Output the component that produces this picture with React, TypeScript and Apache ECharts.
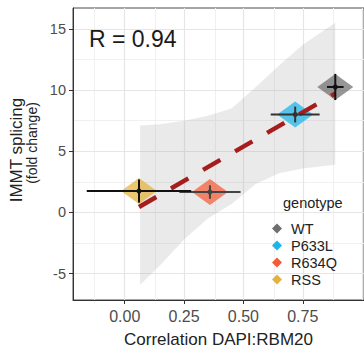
import React, { useEffect, useRef } from "react";
import * as echarts from "echarts";

// ---- data ----
const genotypes = ["WT", "P633L", "R634Q", "RSS"];
const corrX = [0.887, 0.718, 0.359, 0.06];
const splicingY = [10.25, 8.0, 1.67, 1.75];
const corrErr = [0.035, 0.103, 0.129, 0.22];
const splicingErr = [1.07, 0.65, 0.55, 0.95];
const pointColors = ["#6e6e6e", "#1cb5ea", "#f35c36", "#e4b23a"];
const errColors = ["#111111", "#333333", "#444444", "#111111"];

const fitX = [0.06, 0.887];
const fitY = [0.45, 9.72];

const bandX = [0.065, 0.15, 0.25, 0.35, 0.45, 0.55, 0.65, 0.75, 0.887];
const bandUpper = [7.1, 7.2, 7.5, 7.9, 8.5, 10.2, 12.0, 13.7, 15.5];
const bandLower = [-5.9, -4.3, -2.2, -0.5, 0.7, 2.3, 3.2, 3.6, 3.9];

const xTicks = [0, 0.25, 0.5, 0.75];
const yTicks = [-5, 0, 5, 10, 15];
const xMajorGrid = [0, 0.25, 0.5, 0.75, 1.0];
const xMinorGrid = [-0.125, 0.125, 0.375, 0.625, 0.875];
const yMajorGrid = [-5, 0, 5, 10, 15];
const yMinorGrid = [-2.5, 2.5, 7.5, 12.5];

const FONT = "'Liberation Sans', Arial, sans-serif";

export default function App() {
  const ref = useRef<HTMLDivElement>(null);

  useEffect(() => {
    if (!ref.current) return;
    const chart = echarts.init(ref.current, null, { renderer: "svg" });

    const gridLines = (vals: number[], axis: "xAxis" | "yAxis", color: string, width: number) =>
      vals.map((v) => ({ [axis]: v, lineStyle: { color, width, type: "solid" } }));

    const option: any = {
      animation: false,
      backgroundColor: "#ffffff",
      textStyle: { fontFamily: FONT },
      grid: {
        left: 73,
        top: 8,
        right: -13,
        bottom: 46,
        containLabel: false,
        show: true,
        borderColor: "#4a4a4a",
        borderWidth: 1,
        backgroundColor: "transparent",
      },
      xAxis: {
        type: "value",
        min: -0.218,
        max: 1.008,
        splitLine: { show: false },
        axisLine: { show: true, onZero: false, lineStyle: { color: "#333", width: 1 } },
        axisTick: {
          show: true,
          length: 4,
          customValues: xTicks,
          lineStyle: { color: "#333" },
        },
        axisLabel: {
          customValues: xTicks,
          formatter: (v: number) => v.toFixed(2),
          color: "#4d4d4d",
          fontSize: 16,
          margin: 8,
          fontFamily: FONT,
        },
        name: "Correlation DAPI:RBM20",
        nameLocation: "middle",
        nameGap: 31,
        nameTextStyle: { color: "#222", fontSize: 17, fontFamily: FONT },
      },
      yAxis: {
        type: "value",
        min: -7.15,
        max: 16.7,
        splitLine: { show: false },
        axisLine: { show: true, onZero: false, lineStyle: { color: "#333", width: 1 } },
        axisTick: {
          show: true,
          length: 4,
          customValues: yTicks,
          lineStyle: { color: "#333" },
        },
        axisLabel: {
          customValues: yTicks,
          color: "#4d4d4d",
          fontSize: 14.5,
          margin: 7,
          fontFamily: FONT,
        },
      },
      legend: {
        orient: "vertical",
        left: 272,
        top: 220,
        z: 20,
        itemWidth: 10,
        itemHeight: 10,
        itemGap: 0,
        padding: 0,
        textStyle: { color: "#222", fontSize: 14.5, lineHeight: 17, fontFamily: FONT, padding: [0, 0, 0, 4] },
        data: genotypes.map((g, i) => ({
          name: g,
          icon: "diamond",
          itemStyle: { color: pointColors[i], opacity: 1 },
        })),
      },
      graphic: [
        {
          type: "text",
          left: 89,
          top: 27,
          z: 100,
          style: { text: "R = 0.94", fontSize: 23, fill: "#1a1a1a", fontFamily: FONT },
        },
        {
          type: "text",
          left: 283,
          top: 195,
          z: 100,
          style: { text: "genotype", fontSize: 14.5, fill: "#222", fontFamily: FONT },
        },
        {
          type: "text",
          x: 16,
          y: 150,
          rotation: Math.PI / 2,
          z: 100,
          style: {
            text: "IMMT splicing",
            fontSize: 17,
            fill: "#222",
            fontFamily: FONT,
            textAlign: "center",
            textVerticalAlign: "middle",
          },
        },
        {
          type: "text",
          x: 32,
          y: 143,
          rotation: Math.PI / 2,
          z: 100,
          style: {
            text: "(fold change)",
            fontSize: 14,
            fill: "#222",
            fontFamily: FONT,
            textAlign: "center",
            textVerticalAlign: "middle",
          },
        },
      ],
      series: [
        {
          name: "gridlines",
          type: "scatter",
          data: [],
          z: 0,
          silent: true,
          markLine: {
            silent: true,
            z: 0,
            symbol: "none",
            label: { show: false },
            animation: false,
            data: [
              ...gridLines(xMinorGrid, "xAxis", "#f0f0f0", 1),
              ...gridLines(yMinorGrid, "yAxis", "#f0f0f0", 1),
              ...gridLines(xMajorGrid, "xAxis", "#e6e6e6", 1.2),
              ...gridLines(yMajorGrid, "yAxis", "#e6e6e6", 1.2),
            ],
          },
        },
        {
          name: "band",
          type: "custom",
          z: 1,
          silent: true,
          clip: true,
          data: bandX.map((x, i) => [x, bandLower[i], bandUpper[i]]),
          encode: { x: 0, y: [1, 2] },
          renderItem: (params: any, api: any) => {
            if (params.dataIndex !== 0) return null;
            const pts: number[][] = [];
            for (let i = 0; i < bandX.length; i++) pts.push(api.coord([bandX[i], bandUpper[i]]));
            for (let i = bandX.length - 1; i >= 0; i--) pts.push(api.coord([bandX[i], bandLower[i]]));
            return {
              type: "polygon",
              shape: { points: pts },
              style: { fill: "rgba(150,150,150,0.2)" },
            };
          },
        },
        ...genotypes.map((g, i) => ({
          name: g,
          type: "scatter",
          z: 2,
          symbol: "diamond",
          symbolSize: [36, 26],
          itemStyle: { color: pointColors[i], opacity: 0.72 },
          data: [[corrX[i], splicingY[i]]],
        })),
        {
          name: "fit",
          type: "line",
          z: 3,
          symbol: "none",
          silent: true,
          data: fitX.map((x, i) => [x, fitY[i]]),
          lineStyle: { color: "#a51d1d", width: 4.5, type: [20, 17], cap: "butt" },
        },
        {
          name: "errorbars",
          type: "custom",
          z: 4,
          silent: true,
          clip: true,
          data: genotypes.map((g, i) => [corrX[i], splicingY[i], corrErr[i], splicingErr[i]]),
          encode: { x: 0, y: 1 },
          renderItem: (params: any, api: any) => {
            const x = api.value(0);
            const y = api.value(1);
            const xe = api.value(2);
            const ye = api.value(3);
            const l = api.coord([x - xe, y]);
            const r = api.coord([x + xe, y]);
            const t = api.coord([x, y + ye]);
            const b = api.coord([x, y - ye]);
            const c = api.coord([x, y]);
            const stroke = errColors[params.dataIndex];
            return {
              type: "group",
              children: [
                { type: "line", shape: { x1: l[0], y1: l[1], x2: r[0], y2: r[1] }, style: { stroke, lineWidth: 2 } },
                { type: "line", shape: { x1: t[0], y1: t[1], x2: b[0], y2: b[1] }, style: { stroke, lineWidth: 2 } },
                { type: "circle", shape: { cx: c[0], cy: c[1], r: 2.5 }, style: { fill: stroke } },
              ],
            };
          },
        },
      ],
    };

    chart.setOption(option);
    return () => chart.dispose();
  }, []);

  return (
    <div
      ref={ref}
      style={{ position: "fixed", left: 0, top: 0, width: 364, height: 353, overflow: "hidden" }}
    />
  );
}
